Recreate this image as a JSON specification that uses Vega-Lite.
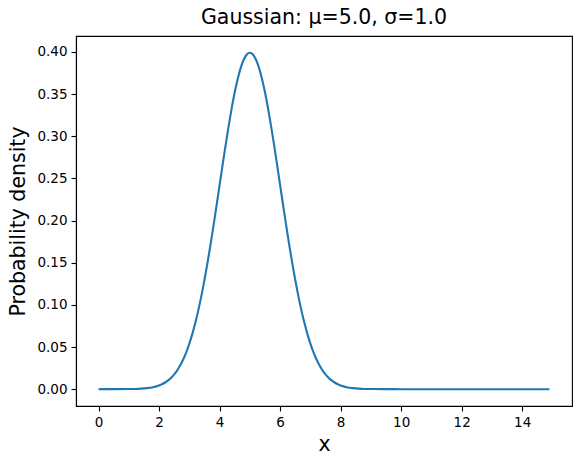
{
  "$schema": "https://vega.github.io/schema/vega-lite/v6.json",
  "width": 496,
  "height": 370,
  "autosize": "none",
  "padding": {"left": 76, "top": 36, "right": 10, "bottom": 59},
  "background": "white",
  "config": {
    "view": {"stroke": "#000", "strokeWidth": 1.1},
    "font": "DejaVu Sans",
    "axis": {
      "grid": false,
      "domainColor": "#000",
      "domainWidth": 1.1,
      "tickColor": "#000",
      "tickWidth": 1.1,
      "tickSize": 5,
      "labelPadding": 4,
      "labelFont": "DejaVu Sans",
      "labelFontSize": 13.5,
      "labelColor": "#000",
      "titleFont": "DejaVu Sans",
      "titleFontSize": 20.5,
      "titleFontWeight": "normal",
      "titleColor": "#000"
    }
  },
  "title": {
    "text": "Gaussian: μ=5.0, σ=1.0",
    "font": "DejaVu Sans",
    "fontSize": 20.5,
    "fontWeight": "normal",
    "color": "#000",
    "offset": 8,
    "anchor": "middle"
  },
  "data": {
    "values": [
      {"x": 0.0, "y": 0.0000015},
      {"x": 0.5, "y": 0.000016},
      {"x": 1.0, "y": 0.00013},
      {"x": 1.2, "y": 0.00029},
      {"x": 1.4, "y": 0.00061},
      {"x": 1.6, "y": 0.00123},
      {"x": 1.8, "y": 0.00238},
      {"x": 2.0, "y": 0.00443},
      {"x": 2.1, "y": 0.00595},
      {"x": 2.2, "y": 0.00792},
      {"x": 2.3, "y": 0.01042},
      {"x": 2.4, "y": 0.01358},
      {"x": 2.5, "y": 0.01753},
      {"x": 2.6, "y": 0.02239},
      {"x": 2.7, "y": 0.02833},
      {"x": 2.8, "y": 0.03547},
      {"x": 2.9, "y": 0.04398},
      {"x": 3.0, "y": 0.05399},
      {"x": 3.1, "y": 0.06562},
      {"x": 3.2, "y": 0.07895},
      {"x": 3.3, "y": 0.09405},
      {"x": 3.4, "y": 0.11092},
      {"x": 3.5, "y": 0.12952},
      {"x": 3.6, "y": 0.14973},
      {"x": 3.7, "y": 0.17137},
      {"x": 3.8, "y": 0.19419},
      {"x": 3.9, "y": 0.21785},
      {"x": 4.0, "y": 0.24197},
      {"x": 4.1, "y": 0.26609},
      {"x": 4.2, "y": 0.28969},
      {"x": 4.3, "y": 0.31225},
      {"x": 4.4, "y": 0.33322},
      {"x": 4.5, "y": 0.35207},
      {"x": 4.6, "y": 0.36827},
      {"x": 4.7, "y": 0.38139},
      {"x": 4.8, "y": 0.39104},
      {"x": 4.9, "y": 0.39695},
      {"x": 5.0, "y": 0.39894},
      {"x": 5.1, "y": 0.39695},
      {"x": 5.2, "y": 0.39104},
      {"x": 5.3, "y": 0.38139},
      {"x": 5.4, "y": 0.36827},
      {"x": 5.5, "y": 0.35207},
      {"x": 5.6, "y": 0.33322},
      {"x": 5.7, "y": 0.31225},
      {"x": 5.8, "y": 0.28969},
      {"x": 5.9, "y": 0.26609},
      {"x": 6.0, "y": 0.24197},
      {"x": 6.1, "y": 0.21785},
      {"x": 6.2, "y": 0.19419},
      {"x": 6.3, "y": 0.17137},
      {"x": 6.4, "y": 0.14973},
      {"x": 6.5, "y": 0.12952},
      {"x": 6.6, "y": 0.11092},
      {"x": 6.7, "y": 0.09405},
      {"x": 6.8, "y": 0.07895},
      {"x": 6.9, "y": 0.06562},
      {"x": 7.0, "y": 0.05399},
      {"x": 7.1, "y": 0.04398},
      {"x": 7.2, "y": 0.03547},
      {"x": 7.3, "y": 0.02833},
      {"x": 7.4, "y": 0.02239},
      {"x": 7.5, "y": 0.01753},
      {"x": 7.6, "y": 0.01358},
      {"x": 7.7, "y": 0.01042},
      {"x": 7.8, "y": 0.00792},
      {"x": 7.9, "y": 0.00595},
      {"x": 8.0, "y": 0.00443},
      {"x": 8.2, "y": 0.00238},
      {"x": 8.4, "y": 0.00123},
      {"x": 8.6, "y": 0.00061},
      {"x": 8.8, "y": 0.00029},
      {"x": 9.0, "y": 0.00013},
      {"x": 9.5, "y": 0.000016},
      {"x": 10.0, "y": 0.0000015},
      {"x": 11.0, "y": 0.0},
      {"x": 12.0, "y": 0.0},
      {"x": 13.0, "y": 0.0},
      {"x": 14.0, "y": 0.0},
      {"x": 14.9, "y": 0.0}
    ]
  },
  "mark": {"type": "line", "color": "#1f77b4", "strokeWidth": 2.1, "interpolate": "monotone"},
  "encoding": {
    "x": {
      "field": "x",
      "type": "quantitative",
      "scale": {"domain": [-0.745, 15.645], "nice": false, "zero": false},
      "axis": {"values": [0, 2, 4, 6, 8, 10, 12, 14], "format": "d", "title": "x", "titlePadding": 6}
    },
    "y": {
      "field": "y",
      "type": "quantitative",
      "scale": {"domain": [-0.01995, 0.41884], "nice": false, "zero": false},
      "axis": {"values": [0, 0.05, 0.1, 0.15, 0.2, 0.25, 0.3, 0.35, 0.4], "format": ".2f", "title": "Probability density", "titlePadding": 8}
    }
  }
}
